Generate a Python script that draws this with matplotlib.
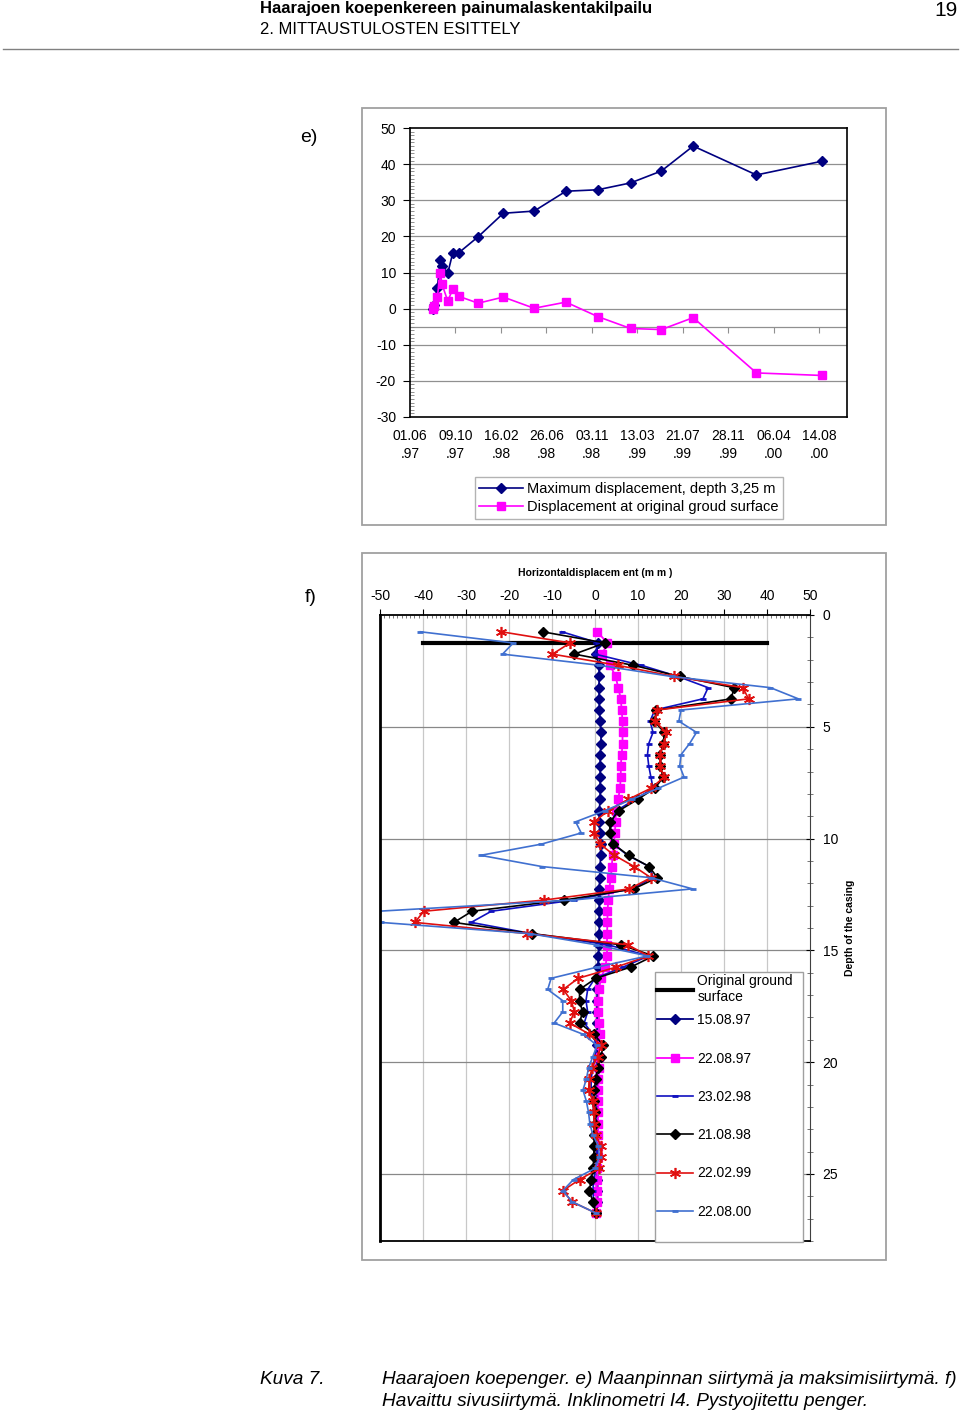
import numpy as np
import pandas as pd
import matplotlib
matplotlib.use("Agg")
import matplotlib.pyplot as plt
from matplotlib.lines import Line2D
from matplotlib.patches import Rectangle
from matplotlib.ticker import MultipleLocator

plt.rcParams['font.family'] = ['Liberation Sans', 'DejaVu Sans']
plt.rcParams['axes.unicode_minus'] = False

# ---- e) displacement vs time ----
e_dates = ["1997-08-05", "1997-08-09", "1997-08-18", "1997-08-27", "1997-08-31",
           "1997-09-17", "1997-10-01", "1997-10-19", "1997-12-13", "1998-02-23",
           "1998-05-22", "1998-08-21", "1998-11-20", "1999-02-22", "1999-05-21",
           "1999-08-20", "2000-02-17", "2000-08-22"]
max_disp = [0.0, 1.0, 5.8, 13.4, 11.8, 9.8, 15.3, 15.5, 19.9, 26.4,
            27.0, 32.5, 32.9, 34.8, 38.1, 45.0, 37.0, 40.8]
surf_disp = [0.0, 0.7, 3.2, 10.0, 6.9, 2.1, 5.3, 3.4, 1.5, 3.2,
             0.1, 1.8, -2.2, -5.5, -5.8, -2.5, -17.8, -18.5]
e_tick_dates = ["1997-06-01", "1997-10-09", "1998-02-16", "1998-06-26", "1998-11-03",
                "1999-03-13", "1999-07-21", "1999-11-28", "2000-04-06", "2000-08-14"]
e_tick_labels = ["01.06\n.97", "09.10\n.97", "16.02\n.98", "26.06\n.98", "03.11\n.98",
                 "13.03\n.99", "21.07\n.99", "28.11\n.99", "06.04\n.00", "14.08\n.00"]

# ---- f) inclinometer profiles ----
depth = [0.75, 1.25, 1.75, 2.25, 2.75, 3.25, 3.75, 4.25, 4.75, 5.25, 5.75, 6.25, 6.75,
         7.25, 7.75, 8.25, 8.75, 9.25, 9.75, 10.25, 10.75, 11.25, 11.75, 12.25, 12.75,
         13.25, 13.75, 14.25, 14.75, 15.25, 15.75, 16.25, 16.75, 17.25, 17.75, 18.25,
         18.75, 19.25, 19.75, 20.25, 20.75, 21.25, 21.75, 22.25, 22.75, 23.25, 23.75,
         24.25, 24.75, 25.25, 25.75, 26.25, 26.75]
ground_x = [-40, 40]
ground_depth = [1.25, 1.25]

d_150897 = [np.nan, 0.8, 0.2, 0.9, 1.0, 0.9, 1.0, 1.0, 1.2, 1.4, 1.4, 1.2, 1.2,
            1.2, 1.2, 1.2, 1.0, 1.0, 1.1, 1.3, 1.3, 1.2, 1.1, 1.0, 1.0,
            1.0, 1.0, 1.0, 0.9, 0.8, 0.7, 0.6, 0.5, 0.5, 0.5, 0.5,
            0.5, 0.5, 0.5, 0.5, 0.5, 0.5, 0.5, 0.5, 0.5, 0.5, 0.4,
            0.4, 0.4, 0.4, 0.4, 0.4, 0.3]
d_220897 = [0.5, 2.9, 1.7, 3.5, 4.8, 5.4, 6.0, 6.2, 6.4, 6.4, 6.4, 6.2, 6.0,
            6.0, 5.8, 5.4, 4.8, 4.8, 4.6, 4.4, 4.1, 3.9, 3.7, 3.3, 3.1,
            2.9, 2.9, 2.8, 2.8, 2.8, 2.4, 1.4, 0.9, 0.8, 0.8, 1.0,
            1.1, 1.0, 0.9, 0.9, 0.8, 0.8, 0.8, 0.7, 0.7, 0.7, 0.6,
            0.6, 0.5, 0.5, 0.4, 0.4, 0.3]
d_230298 = [-7.7, 0.8, 0.0, 10.8, 19.3, 26.3, 25.1, 13.9, 12.8, 13.5, 12.5, 12.2, 12.5,
            13.0, 13.5, 9.3, 5.0, 3.9, 3.4, 4.3, 7.6, 12.6, 13.6, 8.4, -4.8,
            -24.1, -28.8, -14.8, 3.0, 12.5, 6.5, 0.0, -1.7, -2.1, -1.7, -2.5,
            -0.5, 0.3, 0.0, -0.5, -0.9, -0.9, -0.5, -0.3, -0.2, 0.0, 0.5,
            0.5, 0.2, -0.3, -0.5, -0.3, 0.2]
d_210898 = [-12.2, 2.3, -4.8, 8.9, 19.7, 32.3, 31.7, 14.3, 13.8, 16.1, 15.9, 15.1, 15.1,
            15.9, 13.9, 9.9, 5.6, 3.5, 3.4, 4.3, 7.8, 12.6, 14.5, 9.0, -7.1,
            -28.6, -32.8, -14.7, 6.0, 13.6, 8.3, 0.2, -3.6, -3.6, -2.9, -3.6,
            -0.2, 1.9, 1.4, 0.6, 0.2, -0.2, -0.3, 0.1, -0.1, -0.2, -0.2,
            -0.3, -0.4, -0.9, -1.3, -0.5, 0.2]
d_220299 = [-21.8, -5.8, -9.9, 5.3, 18.4, 34.4, 35.7, 14.5, 13.9, 16.6, 16.1, 15.1, 15.1,
            16.1, 13.0, 7.7, 3.1, -0.2, -0.2, 1.2, 4.5, 9.1, 13.0, 8.0, -11.8,
            -39.8, -41.9, -15.8, 7.6, 12.4, 4.9, -3.9, -7.4, -5.5, -4.8, -5.9,
            -1.3, 1.4, 0.6, -0.7, -1.3, -1.5, -0.5, -0.3, -0.2, 0.2, 1.4,
            1.4, 1.0, -3.6, -7.5, -5.3, 0.2]
d_220800 = [-40.6, -19.0, -21.5, 1.0, 17.8, 40.8, 47.3, 20.0, 19.5, 23.6, 22.0, 20.0, 19.7,
            20.7, 14.7, 8.5, 2.3, -4.5, -3.2, -12.5, -26.6, -12.4, 13.0, 22.7, -5.2,
            -50.4, -49.8, -15.2, 0.2, 12.2, 0.5, -10.2, -11.0, -7.5, -7.5, -9.5,
            -2.8, 0.5, -0.5, -1.5, -2.0, -2.8, -2.0, -1.5, -1.2, -0.5, 0.8,
            1.0, 0.0, -5.0, -7.5, -5.3, 0.2]

W, H = 960, 1413
fig = plt.figure(figsize=(W / 100, H / 100), dpi=100)

def fx(px):
    return px / W

def fy(py):
    return 1 - py / H

# page header
fig.text(fx(260), fy(8), "Haarajoen koepenkereen painumalaskentakilpailu",
         family=['Liberation Sans Narrow', 'Liberation Sans'], weight='bold',
         fontsize=12, va='center', ha='left')
fig.text(fx(260), fy(30), "2. MITTAUSTULOSTEN ESITTELY",
         family=['Liberation Sans Narrow', 'Liberation Sans'], fontsize=12,
         va='center', ha='left')
fig.text(fx(958), fy(10), "19", family=['Liberation Sans Narrow', 'Liberation Sans'],
         fontsize=15, va='center', ha='right')
fig.add_artist(Line2D([fx(3), fx(958)], [fy(49), fy(49)], color='#808080', lw=1))

# panel labels
fig.text(fx(300), fy(138), "e)", fontsize=14, va='center', ha='left')
fig.text(fx(305), fy(597), "f)", fontsize=14, va='center', ha='left')

# chart area frames
for top, bot in [(108, 525), (553, 1260)]:
    fig.add_artist(Rectangle((fx(362), fy(bot)), fx(886) - fx(362), fy(top) - fy(bot),
                             fill=False, edgecolor='#a0a0a0', lw=1.3))

# ---------------- e) ----------------
ax1 = fig.add_axes([fx(410), fy(417), fx(847) - fx(410), fy(128) - fy(417)])
x_e = pd.to_datetime(e_dates)
ticks_e = pd.to_datetime(e_tick_dates)
ax1.plot(x_e, max_disp, color='#000080', marker='D', ms=5, lw=1.2,
         label="Maximum displacement, depth 3,25 m")
ax1.plot(x_e, surf_disp, color='#FF00FF', marker='s', ms=6, lw=1.2,
         label="Displacement at original groud surface")
ax1.set_xlim(pd.Timestamp("1997-06-01"), pd.Timestamp("2000-11-02"))
ax1.set_ylim(-30, 50)
ax1.set_yticks(range(-30, 51, 10))
ax1.yaxis.set_minor_locator(MultipleLocator(1))
ax1.tick_params(axis='y', which='major', direction='out', length=5, labelsize=10, pad=5)
ax1.tick_params(axis='y', which='minor', direction='in', length=3, color='#808080')
for v in range(-20, 50, 10):
    ax1.axhline(v, color='#909090', lw=0.9, zorder=0)
ax1.axhline(-5, color='#909090', lw=0.9, zorder=0)
ax1.set_xticks(ticks_e)
ax1.set_xticklabels(e_tick_labels, fontsize=10, linespacing=1.3)
ax1.tick_params(axis='x', length=0, pad=9)
sec = ax1.secondary_xaxis(25 / 80)
sec.set_xticks(ticks_e[1:])
sec.tick_params(axis='x', direction='out', length=4, color='#909090', labelbottom=False)
sec.spines['bottom'].set_visible(False)
for s in ax1.spines.values():
    s.set_color('black')
    s.set_linewidth(1.2)
leg1 = ax1.legend(loc='center', bbox_to_anchor=(fx(629), fy(498)),
                  bbox_transform=fig.transFigure, fontsize=10.5, frameon=True,
                  fancybox=False, edgecolor='#a0a0a0', handlelength=3.0,
                  borderpad=0.3, labelspacing=0.3, handletextpad=0.3)
leg1.get_frame().set_linewidth(1)

# ---------------- f) ----------------
ax2 = fig.add_axes([fx(380), fy(1241), fx(810) - fx(380), fy(615) - fy(1241)])
ax2.plot(ground_x, ground_depth, color='black', lw=3, label="Original ground\nsurface")
ax2.plot(d_150897, depth, color='#000080', marker='D', ms=5, lw=1.3, label="15.08.97")
ax2.plot(d_220897, depth, color='#FF00FF', marker='s', ms=6, lw=1.3, label="22.08.97")
ax2.plot(d_230298, depth, color='#1010C0', marker='_', ms=5, mew=2, lw=1.2, label="23.02.98")
ax2.plot(d_210898, depth, color='black', marker='D', ms=5, lw=1.2, label="21.08.98")
ax2.plot(d_220299, depth, color='#E01010', marker=(6, 2, 0), ms=8, mew=1.2, lw=1.2,
         label="22.02.99")
ax2.plot(d_220800, depth, color='#4070D0', marker='_', ms=5, mew=2, lw=1.2,
         label="22.08.00")
ax2.set_xlim(-50, 50)
ax2.set_ylim(28, 0)
ax2.xaxis.tick_top()
ax2.set_xticks(range(-50, 51, 10))
ax2.xaxis.set_minor_locator(MultipleLocator(1))
ax2.tick_params(axis='x', which='major', direction='out', length=4, labelsize=10, pad=5)
ax2.tick_params(axis='x', which='minor', direction='in', length=2, color='#606060')
ax2.yaxis.tick_right()
ax2.set_yticks(range(0, 26, 5))
ax2.yaxis.set_minor_locator(MultipleLocator(1))
ax2.tick_params(axis='y', which='major', direction='inout', length=6, labelsize=10, pad=6)
ax2.tick_params(axis='y', which='minor', direction='inout', length=4, color='#606060')
for v in range(-40, 50, 10):
    ax2.axvline(v, color='#C8C8C8', lw=0.9, zorder=0)
for v in range(5, 26, 5):
    ax2.axhline(v, color='#888888', lw=0.9, zorder=0)
ax2.spines['left'].set_linewidth(2)
ax2.spines['top'].set_linewidth(1.3)
ax2.spines['right'].set_color('#404040')
ax2.spines['bottom'].set_linewidth(1.3)
ax2.xaxis.set_label_position('top')
ax2.set_xlabel("Horizontaldisplacem ent (m m )", fontsize=7.5, weight='bold', labelpad=9)
ax2.yaxis.set_label_position('right')
ax2.set_ylabel("Depth of the casing", fontsize=7.5, weight='bold', labelpad=5)

# legend of f): white frame with two stacked frameless legends
ax2.add_patch(Rectangle((fx(655), fy(1242)), fx(803) - fx(655), fy(972) - fy(1242),
                        transform=fig.transFigure, facecolor='white',
                        edgecolor='#a0a0a0', lw=1, zorder=4, clip_on=False))
handles, labels = ax2.get_legend_handles_labels()
leg_a = ax2.legend(handles[:1], labels[:1], loc='center left',
                   bbox_to_anchor=(fx(657), fy(989)), bbox_transform=fig.transFigure,
                   fontsize=10, frameon=False, handlelength=2.6, borderpad=0,
                   borderaxespad=0, handletextpad=0.3)
ax2.add_artist(leg_a)
leg_b = ax2.legend(handles[1:], labels[1:], loc='center left',
                   bbox_to_anchor=(fx(657), fy(1116)), bbox_transform=fig.transFigure,
                   fontsize=10, frameon=False, handlelength=2.6, borderpad=0,
                   borderaxespad=0, labelspacing=1.75, handletextpad=0.3)

# caption
cap_font = ['Liberation Sans Narrow', 'Liberation Sans']
fig.text(fx(260), fy(1380), "Kuva 7.", family=cap_font, style='italic', fontsize=13.7,
         va='center')
fig.text(fx(382), fy(1380), "Haarajoen koepenger. e) Maanpinnan siirtymä ja maksimisiirtymä. f)",
         family=cap_font, style='italic', fontsize=13.7, va='center')
fig.text(fx(382), fy(1401), "Havaittu sivusiirtymä. Inklinometri I4. Pystyojitettu penger.",
         family=cap_font, style='italic', fontsize=13.7, va='center')

fig.savefig("out.png", dpi=100)
